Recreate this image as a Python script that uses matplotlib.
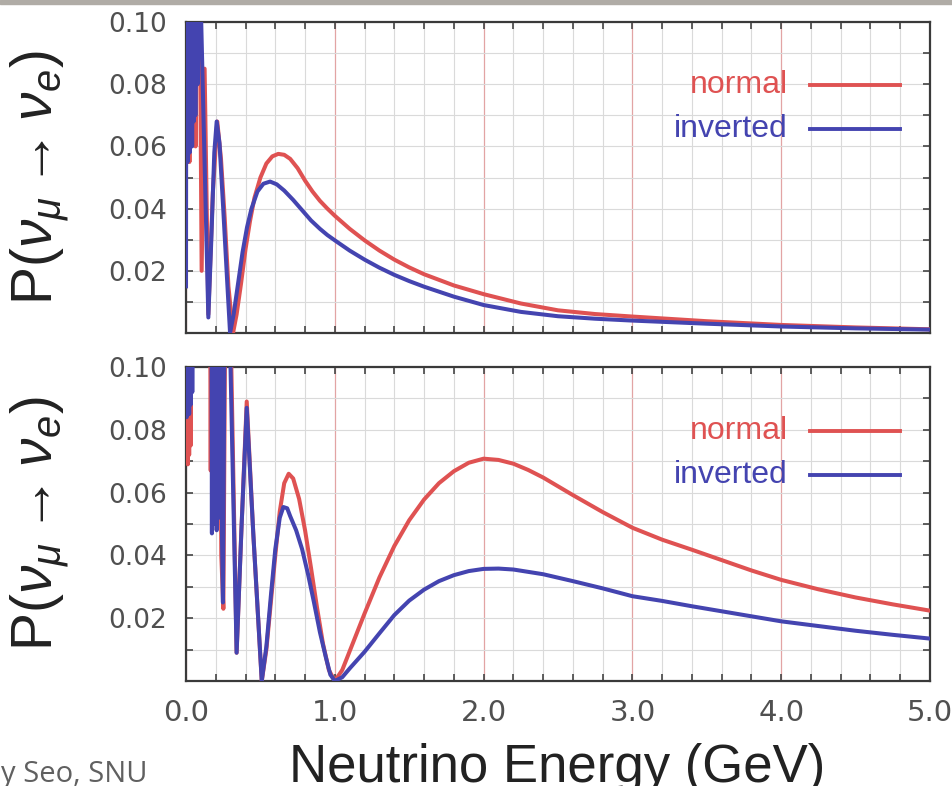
import numpy as np
import matplotlib
matplotlib.use("Agg")
import matplotlib.pyplot as plt
from matplotlib.ticker import MultipleLocator, FixedLocator
from matplotlib.patches import Rectangle

plt.rcParams["mathtext.fontset"] = "custom"
plt.rcParams["mathtext.rm"] = "Liberation Sans"
plt.rcParams["mathtext.it"] = "Liberation Sans:italic"
plt.rcParams["mathtext.bf"] = "Liberation Sans:bold"

# ---- data (energy in GeV, probability) ----
# upper panel
E_top_normal = [0.000, 0.003, 0.006, 0.010, 0.014, 0.018, 0.023, 0.028, 0.034, 0.040,
                0.047, 0.055, 0.064, 0.074, 0.088, 0.105, 0.125, 0.150, 0.180, 0.210,
                0.235, 0.260, 0.285, 0.316, 0.340, 0.370, 0.400, 0.430, 0.460, 0.500,
                0.540, 0.580, 0.620, 0.660, 0.700, 0.750, 0.800, 0.850, 0.900, 0.950,
                1.000, 1.100, 1.200, 1.300, 1.400, 1.500, 1.600, 1.800, 2.000, 2.250,
                2.500, 2.750, 3.000, 3.500, 4.000, 4.500, 5.000]
P_top_normal = [0.060, 0.140, 0.058, 0.150, 0.065, 0.150, 0.055, 0.150, 0.060, 0.150,
                0.062, 0.150, 0.060, 0.150, 0.140, 0.020, 0.085, 0.006, 0.045, 0.068,
                0.056, 0.037, 0.015, 0.000, 0.006, 0.016, 0.027, 0.036, 0.0435, 0.0500,
                0.0545, 0.0568, 0.0576, 0.0573, 0.0560, 0.0530, 0.0490, 0.0455, 0.0425, 0.0400,
                0.0377, 0.0335, 0.0298, 0.0265, 0.0236, 0.0211, 0.0189, 0.0153, 0.0125, 0.0095,
                0.0073, 0.0061, 0.0053, 0.0038, 0.0026, 0.0018, 0.0012]
E_top_inverted = [0.000, 0.002, 0.005, 0.008, 0.011, 0.014, 0.017, 0.020, 0.024, 0.028,
                  0.032, 0.036, 0.041, 0.046, 0.051, 0.057, 0.063, 0.070, 0.078, 0.092,
                  0.150, 0.170, 0.190, 0.206, 0.225, 0.250, 0.275, 0.296, 0.320, 0.350,
                  0.380, 0.410, 0.440, 0.480, 0.520, 0.565, 0.610, 0.660, 0.720, 0.780,
                  0.840, 0.900, 0.950, 1.000, 1.100, 1.200, 1.300, 1.400, 1.500, 1.600,
                  1.800, 2.000, 2.250, 2.500, 2.750, 3.000, 3.500, 4.000, 4.500, 5.000]
P_top_inverted = [0.015, 0.140, 0.060, 0.140, 0.055, 0.150, 0.062, 0.150, 0.058, 0.150,
                  0.065, 0.150, 0.060, 0.150, 0.068, 0.150, 0.070, 0.150, 0.080, 0.120,
                  0.005, 0.030, 0.058, 0.068, 0.061, 0.040, 0.018, 0.000, 0.006, 0.016,
                  0.026, 0.034, 0.040, 0.0455, 0.0480, 0.0487, 0.0478, 0.0458, 0.0428, 0.0395,
                  0.0362, 0.0335, 0.0315, 0.0298, 0.0265, 0.0236, 0.0210, 0.0187, 0.0167, 0.0149,
                  0.0117, 0.0090, 0.0068, 0.0054, 0.0046, 0.0040, 0.0030, 0.0021, 0.0015, 0.0011]

# lower panel
E_bot_normal = [0.000, 0.004, 0.008, 0.012, 0.016, 0.021, 0.026, 0.031, 0.036, 0.045,
                0.160, 0.166, 0.172, 0.180, 0.188, 0.197, 0.206, 0.215, 0.225, 0.237,
                0.251, 0.268, 0.285, 0.340, 0.373, 0.408, 0.452, 0.509, 0.540, 0.570,
                0.600, 0.630, 0.660, 0.690, 0.720, 0.760, 0.800, 0.840, 0.880, 0.920,
                0.960, 1.000, 1.050, 1.100, 1.200, 1.300, 1.400, 1.500, 1.600, 1.700,
                1.800, 1.900, 2.000, 2.100, 2.200, 2.300, 2.400, 2.600, 2.800, 3.000,
                3.200, 3.400, 3.600, 3.800, 4.000, 4.250, 4.500, 4.750, 5.000]
P_bot_normal = [0.130, 0.070, 0.140, 0.069, 0.140, 0.072, 0.140, 0.075, 0.140, 0.150,
                0.150, 0.067, 0.150, 0.065, 0.150, 0.060, 0.150, 0.055, 0.150, 0.040,
                0.023, 0.150, 0.150, 0.009, 0.049, 0.089, 0.047, 0.000, 0.010, 0.025,
                0.040, 0.054, 0.063, 0.066, 0.0645, 0.058, 0.048, 0.036, 0.0235, 0.012,
                0.0035, 0.000, 0.0035, 0.0095, 0.0215, 0.0330, 0.0430, 0.0512, 0.0578, 0.0630,
                0.0668, 0.0695, 0.0708, 0.0704, 0.0692, 0.0672, 0.0648, 0.0592, 0.0538, 0.0488,
                0.0450, 0.0418, 0.0385, 0.0352, 0.0322, 0.0292, 0.0266, 0.0244, 0.0224]
E_bot_inverted = [0.000, 0.004, 0.008, 0.012, 0.016, 0.021, 0.026, 0.031, 0.036, 0.042,
                  0.050, 0.170, 0.174, 0.178, 0.182, 0.186, 0.190, 0.194, 0.198, 0.202,
                  0.206, 0.210, 0.214, 0.218, 0.222, 0.226, 0.231, 0.236, 0.242, 0.248,
                  0.255, 0.262, 0.290, 0.340, 0.373, 0.408, 0.452, 0.509, 0.540, 0.570,
                  0.600, 0.630, 0.654, 0.680, 0.700, 0.740, 0.780, 0.820, 0.860, 0.900,
                  0.940, 0.970, 1.000, 1.050, 1.100, 1.200, 1.300, 1.400, 1.500, 1.600,
                  1.700, 1.800, 1.900, 2.000, 2.100, 2.200, 2.400, 2.600, 2.800, 3.000,
                  3.200, 3.400, 3.600, 3.800, 4.000, 4.250, 4.500, 4.750, 5.000]
P_bot_inverted = [0.140, 0.084, 0.140, 0.086, 0.140, 0.085, 0.140, 0.088, 0.140, 0.092,
                  0.150, 0.150, 0.047, 0.150, 0.055, 0.150, 0.050, 0.150, 0.060, 0.150,
                  0.048, 0.150, 0.055, 0.150, 0.052, 0.150, 0.060, 0.150, 0.045, 0.025,
                  0.080, 0.150, 0.120, 0.009, 0.049, 0.087, 0.047, 0.000, 0.011, 0.027,
                  0.042, 0.052, 0.0554, 0.0550, 0.0525, 0.0480, 0.0420, 0.0340, 0.0250, 0.0155,
                  0.0075, 0.0020, 0.000, 0.0012, 0.0040, 0.0093, 0.0152, 0.0210, 0.0256, 0.0291,
                  0.0318, 0.0337, 0.0350, 0.0357, 0.0358, 0.0355, 0.0340, 0.0318, 0.0295, 0.0270,
                  0.0255, 0.0238, 0.0222, 0.0206, 0.0190, 0.0175, 0.0160, 0.0147, 0.0135]

x_ticks = [0, 1, 2, 3, 4, 5]
x_ticklabels = ["0.0", "1.0", "2.0", "3.0", "4.0", "5.0"]
y_ticks = [0.02, 0.04, 0.06, 0.08, 0.10]
y_ticklabels = ["0.02", "0.04", "0.06", "0.08", "0.10"]
series_names = ["normal", "inverted"]

RED = "#df5252"
BLUE = "#4444b0"

fig = plt.figure(figsize=(9.52, 7.86), dpi=100)
fig.patches.append(Rectangle((0, 0.9955), 1, 0.0045, transform=fig.transFigure,
                             color="#b0aca6", zorder=0))

ax1 = fig.add_axes([0.1954, 0.5763, 0.7815, 0.3957])
ax2 = fig.add_axes([0.1954, 0.1336, 0.7815, 0.3995])

panels = [(ax1, E_top_normal, P_top_normal, E_top_inverted, P_top_inverted),
          (ax2, E_bot_normal, P_bot_normal, E_bot_inverted, P_bot_inverted)]

for ax, en, pn, ei, pi in panels:
    ax.plot(en, pn, color=RED, lw=2.9, solid_joinstyle="round", zorder=3)
    ax.plot(ei, pi, color=BLUE, lw=2.9, solid_joinstyle="round", zorder=4)
    ax.set_xlim(0, 5); ax.set_ylim(0, 0.1)
    ax.xaxis.set_major_locator(FixedLocator(x_ticks))
    ax.xaxis.set_minor_locator(MultipleLocator(0.2))
    ax.yaxis.set_major_locator(FixedLocator(y_ticks))
    ax.yaxis.set_minor_locator(MultipleLocator(0.01))
    ax.grid(which="minor", color="#dadada", lw=0.8)
    ax.yaxis.grid(which="major", color="#dadada", lw=0.8)
    ax.xaxis.grid(which="major", color="#e2a4a4", lw=0.9)
    ax.set_axisbelow(True)
    ax.tick_params(which="both", direction="in", top=True, right=True,
                   length=5, width=1.2, color="#444444")
    ax.set_yticklabels(y_ticklabels, fontsize=19, color="#505050", family="DejaVu Sans")
    ax.tick_params(axis="y", pad=14)
    for s in ax.spines.values():
        s.set_color("#3a3a3a"); s.set_linewidth(1.6)
    # legend
    ax.text(0.809, 0.797, series_names[0], transform=ax.transAxes, ha="right", va="center",
            fontsize=23, color=RED, family="Liberation Sans")
    ax.text(0.809, 0.656, series_names[1], transform=ax.transAxes, ha="right", va="center",
            fontsize=23, color=BLUE, family="Liberation Sans")
    ax.plot([0.839, 0.960], [0.797, 0.797], transform=ax.transAxes, color=RED, lw=2.8)
    ax.plot([0.839, 0.960], [0.656, 0.656], transform=ax.transAxes, color=BLUE, lw=2.8)

ax1.set_xticklabels([])
ax2.set_xticklabels(x_ticklabels, fontsize=21, color="#505050", family="DejaVu Sans")
ax2.tick_params(axis="x", pad=13)

ylab = r"P$(\nu_{\mu} \rightarrow \nu_{e})$"
fig.text(0.042, 0.7742, ylab, rotation=90, ha="center", va="center", fontsize=41,
         color="#222222", family="Liberation Sans")
fig.text(0.042, 0.3333, ylab, rotation=90, ha="center", va="center", fontsize=41,
         color="#222222", family="Liberation Sans")
fig.text(0.5856, 0.005, "Neutrino Energy (GeV)", ha="center", va="baseline", fontsize=38,
         color="#222222", family="Liberation Sans")
fig.text(0.001, 0.005, "y Seo, SNU", ha="left", va="baseline", fontsize=21,
         color="#606060", family="Open Sans")

fig.savefig("out.png", dpi=100)
